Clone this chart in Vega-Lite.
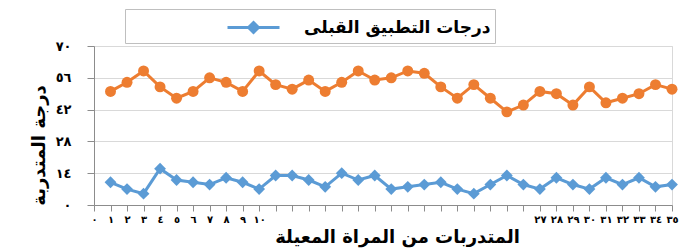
{
  "$schema": "https://vega.github.io/schema/vega-lite/v6.json",
  "width": 578,
  "height": 159,
  "autosize": {"type": "none"},
  "padding": {"left": 94, "top": 46, "right": 12, "bottom": 46},
  "background": "white",
  "config": {"view": {"stroke": "#d9d9d9"}, "font": "DejaVu Sans"},
  "data": {"values": [
    {"i": 1, "pre": 10, "post": 50}, {"i": 2, "pre": 7, "post": 54}, {"i": 3, "pre": 5, "post": 59},
    {"i": 4, "pre": 16, "post": 52}, {"i": 5, "pre": 11, "post": 47}, {"i": 6, "pre": 10, "post": 50},
    {"i": 7, "pre": 9, "post": 56}, {"i": 8, "pre": 12, "post": 54}, {"i": 9, "pre": 10, "post": 50},
    {"i": 10, "pre": 7, "post": 59}, {"i": 11, "pre": 13, "post": 53}, {"i": 12, "pre": 13, "post": 51},
    {"i": 13, "pre": 11, "post": 55}, {"i": 14, "pre": 8, "post": 50}, {"i": 15, "pre": 14, "post": 54},
    {"i": 16, "pre": 11, "post": 59}, {"i": 17, "pre": 13, "post": 55}, {"i": 18, "pre": 7, "post": 56},
    {"i": 19, "pre": 8, "post": 59}, {"i": 20, "pre": 9, "post": 58}, {"i": 21, "pre": 10, "post": 52},
    {"i": 22, "pre": 7, "post": 47}, {"i": 23, "pre": 5, "post": 53}, {"i": 24, "pre": 9, "post": 47},
    {"i": 25, "pre": 13, "post": 41}, {"i": 26, "pre": 9, "post": 44}, {"i": 27, "pre": 7, "post": 50},
    {"i": 28, "pre": 12, "post": 49}, {"i": 29, "pre": 9, "post": 44}, {"i": 30, "pre": 7, "post": 52},
    {"i": 31, "pre": 12, "post": 45}, {"i": 32, "pre": 9, "post": 47}, {"i": 33, "pre": 12, "post": 49},
    {"i": 34, "pre": 8, "post": 53}, {"i": 35, "pre": 9, "post": 51}
  ]},
  "encoding": {
    "x": {
      "field": "i", "type": "quantitative",
      "scale": {"domain": [0, 35], "nice": false, "zero": false},
      "axis": {
        "values": [0,1,2,3,4,5,6,7,8,9,10,11,12,13,14,15,16,17,18,19,20,21,22,23,24,25,26,27,28,29,30,31,32,33,34,35],
        "labelExpr": "(datum.value <= 10 || datum.value >= 27) ? ((datum.value >= 10 ? ['٠','١','٢','٣','٤','٥','٦','٧','٨','٩'][floor(datum.value / 10)] : '') + ['٠','١','٢','٣','٤','٥','٦','٧','٨','٩'][datum.value % 10]) : ''",
        "grid": false,
        "domainColor": "#8c8c8c",
        "tickColor": "#8c8c8c",
        "tickSize": 6,
        "labelFontSize": 10,
        "labelFontWeight": "bold",
        "labelColor": "black",
        "labelPadding": 3,
        "labelOverlap": false,
        "labelFlush": false,
        "title": "المتدربات من المراة المعيلة",
        "titleFontSize": 18,
        "titleFontWeight": "bold",
        "titleColor": "black",
        "titleX": 303,
        "titleY": 32,
        "titleAlign": "center",
        "titleBaseline": "middle"
      }
    }
  },
  "layer": [
    {
      "mark": {"type": "line", "color": "#ED7D31", "strokeWidth": 3, "point": {"filled": true, "size": 120, "color": "#ED7D31", "opacity": 1}},
      "encoding": {
        "y": {
          "field": "post", "type": "quantitative",
          "scale": {"domain": [0, 70], "nice": false},
          "axis": {
            "values": [0, 14, 28, 42, 56, 70],
            "labelExpr": "['٠','١٤','٢٨','٤٢','٥٦','٧٠'][round(datum.value / 14)]",
            "labelOverlap": false,
            "labelFlush": false,
            "grid": true,
            "gridColor": "#d9d9d9",
            "domainColor": "#8c8c8c",
            "tickColor": "#8c8c8c",
            "tickSize": 7,
            "labelFontSize": 13,
            "labelFontWeight": "bold",
            "labelColor": "black",
            "labelPadding": 16,
            "title": "درجة المتدربة",
            "titleFontSize": 18,
            "titleFontWeight": "bold",
            "titleColor": "black",
            "titleAngle": -90,
            "titleX": -55,
            "titleY": 99,
            "titleAlign": "center",
            "titleBaseline": "middle"
          }
        }
      }
    },
    {
      "mark": {"type": "line", "strokeWidth": 3, "point": {"filled": true, "shape": "diamond", "size": 140, "opacity": 1}},
      "encoding": {
        "y": {
          "field": "pre", "type": "quantitative",
          "scale": {"domain": [0, 70], "nice": false},
          "axis": {
            "values": [0, 14, 28, 42, 56, 70],
            "labelExpr": "['٠','١٤','٢٨','٤٢','٥٦','٧٠'][round(datum.value / 14)]",
            "labelOverlap": false,
            "labelFlush": false,
            "grid": true,
            "gridColor": "#d9d9d9",
            "domainColor": "#8c8c8c",
            "tickColor": "#8c8c8c",
            "tickSize": 7,
            "labelFontSize": 13,
            "labelFontWeight": "bold",
            "labelColor": "black",
            "labelPadding": 16,
            "title": "درجة المتدربة",
            "titleFontSize": 18,
            "titleFontWeight": "bold",
            "titleColor": "black",
            "titleAngle": -90,
            "titleX": -55,
            "titleY": 99,
            "titleAlign": "center",
            "titleBaseline": "middle"
          }
        },
        "color": {
          "datum": "درجات التطبيق القبلى",
          "type": "nominal",
          "scale": {"range": ["#5B9BD5"]},
          "legend": {
            "orient": "none",
            "legendX": 31,
            "legendY": -37,
            "title": null,
            "padding": 4,
            "fillColor": "white",
            "strokeColor": "#bfbfbf",
            "symbolType": "M-2,0L2,0M0,-0.38L0.38,0L0,0.38L-0.38,0Z",
            "symbolSize": 676,
            "symbolStrokeColor": "#5B9BD5",
            "symbolFillColor": "#5B9BD5",
            "symbolStrokeWidth": 3,
            "symbolOpacity": 1,
            "symbolOffset": 110,
            "labelOffset": 36,
            "labelFontSize": 17,
            "labelFontWeight": "bold",
            "labelColor": "black",
            "labelLimit": 0,
            "labelExpr": "datum.label + '               '"
          }
        }
      }
    }
  ]
}
